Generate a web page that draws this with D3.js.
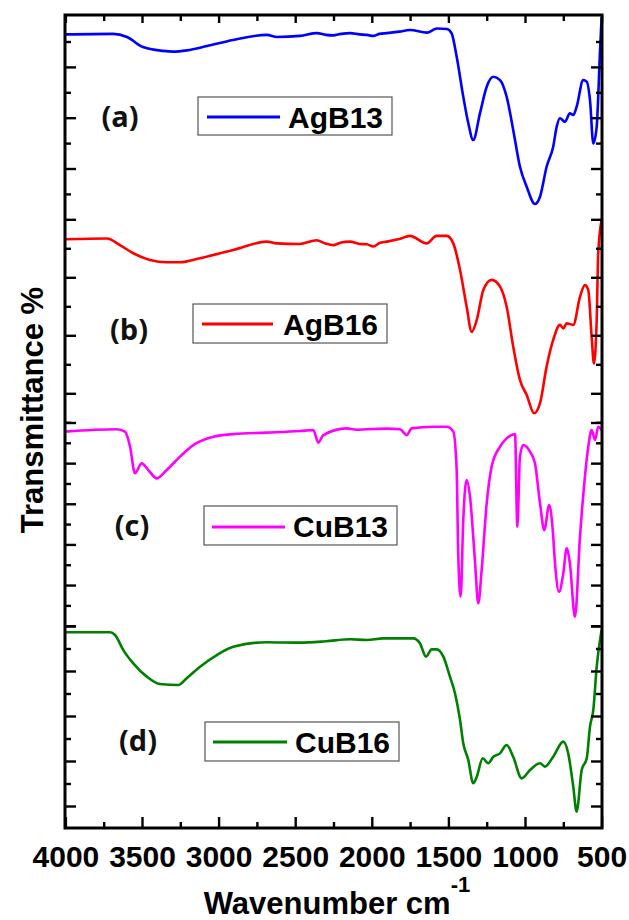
<!DOCTYPE html>
<html><head><meta charset="utf-8">
<script src="https://cdn.jsdelivr.net/npm/d3@7/dist/d3.min.js"></script>
<style>body{margin:0;background:#fff}</style>
</head><body>
<svg id="chart" width="629" height="920"></svg>
<script>
// ---------- DATA ----------
const xTickValues = [4000, 3500, 3000, 2500, 2000, 1500, 1000, 500];
const sampleNames = ["AgB13", "AgB16", "CuB13", "CuB16"];
const panelLabels = ["(a)", "(b)", "(c)", "(d)"];
const seriesColors = ["#0000ff", "#ff0000", "#ff00ff", "#008000"];

// [wavenumber cm-1, transmittance (arb. %)]
const AgB13 = [[4000,92.8],[3689,93.0],[3598,91.8],[3494,87.8],[3363,86.3],[3298,86.0],[3206,86.5],[3076,88.2],[2906,90.6],[2684,92.6],[2619,91.8],[2469,92.2],[2358,93.3],[2300,92.6],[2253,92.4],[2200,93.0],[2142,93.3],[2080,92.8],[2031,92.6],[1992,92.2],[1950,93.0],[1901,93.3],[1820,93.9],[1751,94.5],[1640,93.5],[1575,95.1],[1509,94.9],[1479,93.2],[1446,84.0],[1403,68.3],[1370,57.8],[1338,51.2],[1294,61.7],[1250,72.2],[1207,76.1],[1163,74.8],[1120,68.3],[1077,55.2],[1033,40.7],[989,32.8],[935,26.0],[902,28.9],[859,40.7],[816,48.6],[793,56.5],[772,59.8],[739,58.4],[707,61.7],[685,61.1],[663,64.3],[620,74.8],[597,74.2],[576,67.0],[554,49.9],[532,56.5],[510,86.7],[500,99.5]];

const AgB16 = [[4000,93.1],[3728,93.4],[3644,91.1],[3557,88.3],[3448,86.0],[3339,85.2],[3252,85.2],[3121,86.6],[2904,89.4],[2686,92.3],[2621,91.7],[2469,91.5],[2360,92.8],[2300,91.6],[2251,91.1],[2200,92.0],[2142,92.3],[2080,91.5],[2033,91.4],[1990,90.6],[1950,91.8],[1903,92.3],[1820,93.2],[1751,94.3],[1642,91.7],[1577,94.3],[1511,94.3],[1468,91.7],[1424,82.5],[1381,69.9],[1348,61.2],[1315,65.3],[1272,75.6],[1218,79.1],[1163,76.8],[1120,69.9],[1077,56.1],[1033,44.6],[989,39.4],[941,33.1],[902,36.6],[859,49.2],[816,58.4],[772,63.6],[750,62.4],[728,64.1],[685,63.6],[641,73.3],[609,77.3],[587,75.6],[565,59.5],[550,50.3],[532,65.3],[522,88.3],[500,99.8]];

const CuB13 = [[4000,95.5],[3665,96.7],[3611,95.5],[3578,88.1],[3546,75.0],[3502,79.9],[3459,76.6],[3404,72.5],[3339,76.6],[3252,83.2],[3165,88.9],[3035,93.0],[2904,94.3],[2686,95.0],[2469,95.8],[2382,96.3],[2349,90.1],[2317,93.8],[2164,97.1],[2100,96.4],[2033,96.7],[1900,97.0],[1816,96.7],[1772,93.8],[1740,97.1],[1599,97.9],[1511,97.9],[1468,95.5],[1446,76.6],[1436,35.6],[1420,14.3],[1403,52.0],[1381,71.7],[1359,63.5],[1327,32.3],[1305,11.0],[1283,27.4],[1250,60.2],[1218,78.2],[1163,88.1],[1120,92.2],[1065,94.3],[1050,48.7],[1033,83.2],[1011,88.9],[967,85.6],[935,79.9],[902,60.2],[874,47.1],[842,59.4],[819,47.1],[804,30.7],[778,16.7],[750,25.8],[728,38.1],[707,30.7],[674,4.4],[641,43.8],[609,73.3],[587,88.1],[565,96.3],[543,91.4],[522,97.9],[500,96.3]];

const CuB16 = [[4000,97.2],[3709,97.2],[3676,96.0],[3622,89.3],[3557,83.4],[3469,77.5],[3383,74.2],[3263,73.8],[3208,76.8],[3121,81.9],[3012,87.1],[2904,90.8],[2686,92.8],[2469,92.6],[2300,93.2],[2142,94.1],[2033,93.8],[1925,94.5],[1729,94.5],[1686,92.3],[1646,86.4],[1609,89.6],[1577,89.6],[1533,86.4],[1490,77.5],[1457,70.1],[1424,58.2],[1403,47.9],[1370,40.4],[1338,30.1],[1315,33.0],[1276,41.2],[1240,39.0],[1207,41.9],[1163,43.4],[1120,47.1],[1077,41.9],[1022,32.3],[967,36.0],[902,39.0],[870,37.5],[816,41.9],[750,48.6],[718,43.4],[685,28.6],[663,17.5],[630,36.0],[597,41.2],[576,55.2],[554,62.7],[532,81.9],[500,98.2]];

const seriesData = [AgB13, AgB16, CuB13, CuB16];

// ---------- LAYOUT ----------
const svg = d3.select("#chart");
const plotL = 65, plotR = 602, plotT = 15, plotB = 828;
const x = d3.scaleLinear().domain([4000, 500]).range([65.4, 601.6]);

// each stacked panel has its own transmittance axis
const panelScales = [
  {y: d3.scaleLinear().domain([0, 100]).range([270.1, 16.1]), ticks: d3.range(20, 91, 10)},
  {y: d3.scaleLinear().domain([0, 100]).range([509.3, 219.3]), ticks: d3.range(30, 91, 10)},
  {y: d3.scaleLinear().domain([0, 100]).range([625.7, 422.5]), ticks: d3.range(0, 101, 10)},
  {y: d3.scaleLinear().domain([0, 100]).range([851, 626]), ticks: d3.range(20, 101, 10)}
];

const legendBoxes = [
  {lab:[120,117], box:[198,97,194,38], line:[207,280,117], text:[288,128]},
  {lab:[129,330], box:[193,304,194,39], line:[202,273,324], text:[283,335]},
  {lab:[132,526], box:[204,506,193,39], line:[212,285,527], text:[293,537]},
  {lab:[138,741], box:[205,722,194,39], line:[213,287,742], text:[295,753]}
];

// curves
const clipId = "plotclip";
svg.append("clipPath").attr("id", clipId).append("rect")
  .attr("x", plotL).attr("y", plotT).attr("width", plotR - plotL).attr("height", plotB - plotT);

seriesData.forEach((d, i) => {
  const ys = panelScales[i].y;
  const line = d3.line().x(p => x(p[0])).y(p => ys(p[1])).curve(d3.curveMonotoneX);
  svg.append("path").datum(d)
    .attr("d", line)
    .attr("fill", "none")
    .attr("stroke", seriesColors[i])
    .attr("stroke-width", 2.6)
    .attr("stroke-linejoin", "round")
    .attr("clip-path", `url(#${clipId})`);
});

// axes ticks
const minorX = d3.range(3750, 500, -500);
function styleAxis(g){ g.select(".domain").remove(); g.selectAll("line").attr("stroke","#000").attr("stroke-width",2.4); }

svg.append("g").attr("transform", `translate(0,${plotB})`)
  .call(d3.axisBottom(x).tickValues(xTickValues).tickSize(-11).tickSizeOuter(0).tickPadding(18).tickFormat(d3.format("d")))
  .call(styleAxis)
  .call(g => g.selectAll("text").attr("font-family","Liberation Sans, Arial, sans-serif").attr("font-weight","bold").attr("font-size",30).attr("fill","#000"));
svg.append("g").attr("transform", `translate(0,${plotB})`)
  .call(d3.axisBottom(x).tickValues(minorX).tickSize(-6).tickFormat(""))
  .call(styleAxis);
svg.append("g").attr("transform", `translate(0,${plotT})`)
  .call(d3.axisTop(x).tickValues(xTickValues).tickSize(-8).tickFormat(""))
  .call(styleAxis);
svg.append("g").attr("transform", `translate(0,${plotT})`)
  .call(d3.axisTop(x).tickValues(minorX).tickSize(-6).tickFormat(""))
  .call(styleAxis);

panelScales.forEach(p => {
  const major = p.ticks.filter(v => v % 20 === 0);
  const minor = p.ticks.filter(v => v % 20 !== 0);
  [[major, 11], [minor, 6]].forEach(([vals, len]) => {
    svg.append("g").attr("transform", `translate(${plotL},0)`)
      .call(d3.axisLeft(p.y).tickValues(vals).tickSize(-len).tickFormat(""))
      .call(styleAxis);
    svg.append("g").attr("transform", `translate(${plotR},0)`)
      .call(d3.axisRight(p.y).tickValues(vals).tickSize(-len).tickFormat(""))
      .call(styleAxis);
  });
});

// frame
svg.append("rect").attr("x", plotL).attr("y", plotT).attr("width", plotR - plotL).attr("height", plotB - plotT)
  .attr("fill", "none").attr("stroke", "#000").attr("stroke-width", 3);

// labels and legends
legendBoxes.forEach((L, i) => {
  svg.append("text").attr("x", L.lab[0]).attr("y", L.lab[1]).attr("dy", "0.36em")
    .attr("text-anchor", "middle").attr("font-family", "Open Sans, sans-serif")
    .attr("font-weight", "bold").attr("font-size", 29).attr("fill", "#111").text(panelLabels[i]);
  svg.append("rect").attr("x", L.box[0]).attr("y", L.box[1]).attr("width", L.box[2]).attr("height", L.box[3])
    .attr("fill", "#fff").attr("stroke", "#555").attr("stroke-width", 1.2);
  svg.append("line").attr("x1", L.line[0]).attr("x2", L.line[1]).attr("y1", L.line[2]).attr("y2", L.line[2])
    .attr("stroke", seriesColors[i]).attr("stroke-width", 3);
  svg.append("text").attr("x", L.text[0]).attr("y", L.text[1])
    .attr("font-family", "Liberation Sans, Arial, sans-serif").attr("font-weight", "bold")
    .attr("font-size", 30).attr("fill", "#000").text(sampleNames[i]);
});

// axis titles
const xt = svg.append("text").attr("x", 337).attr("y", 914).attr("text-anchor", "middle")
  .attr("font-family", "Liberation Sans, Arial, sans-serif").attr("font-weight", "bold").attr("font-size", 31).attr("fill", "#000");
xt.append("tspan").text("Wavenumber cm");
xt.append("tspan").attr("dy", -22).attr("font-size", 22).text("-1");

svg.append("text").attr("transform", "translate(43,410) rotate(-90)").attr("text-anchor", "middle")
  .attr("font-family", "Liberation Sans, Arial, sans-serif").attr("font-weight", "bold").attr("font-size", 31).attr("fill", "#000")
  .text("Transmittance %");
</script>
</body></html>
